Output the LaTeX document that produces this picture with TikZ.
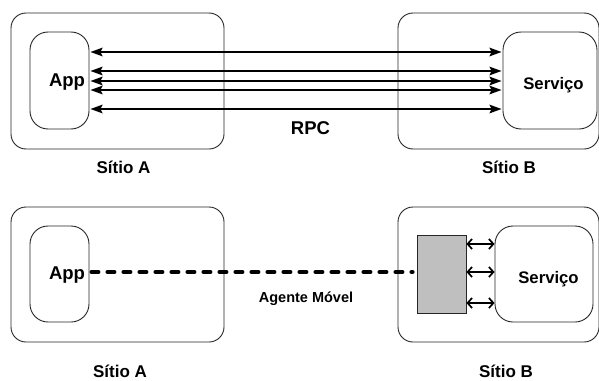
\documentclass[tikz,border=0pt]{standalone}
\usepackage{fontspec}
\setmainfont{Liberation Sans}
\usetikzlibrary{arrows.meta}
\begin{document}
\begin{tikzpicture}[x=1pt,y=-1pt,
  site/.style={draw=black!85, line width=0.9pt, rounded corners=15pt,
    minimum width=#1, inner sep=0pt},
  inner/.style={draw=black!85, line width=0.9pt, rounded corners=18pt, inner sep=0pt},
  lbl/.style={anchor=base, inner sep=0pt, font=\fontsize{#1}{#1}\selectfont\bfseries},
  rpc/.style={line width=2.2pt, {Stealth[length=12pt,width=8.5pt,inset=2pt]}-{Stealth[length=12pt,width=8.5pt,inset=2pt]}},
  local/.style={line width=1.7pt, {Straight Barb[length=4.5pt,width=10pt]}-{Straight Barb[length=4.5pt,width=10pt]}},
  agent/.style={line width=4pt, line cap=round, dash pattern=on 7pt off 9pt}
]
\useasboundingbox (0,0) rectangle (599,380);

% ---- RPC: upper half ----
\node[site=213pt, minimum height=136pt] (siteAt) at (117.5,81) {};
\node[inner, minimum width=59pt, minimum height=97pt] (appT) at (59.5,80.5) {};
\node[site=201pt, minimum height=136pt] (siteBt) at (498.5,81) {};
\node[inner, minimum width=94pt, minimum height=97pt] (srvT) at (550,80.5) {};

\node[lbl=18.5] (appTxt) at (67,86) {App};
\node[lbl=16.7] (srvTxt) at (553.5,89) {Serviço};
\node[lbl=18.5] (rpcTxt) at (310.5,134) {RPC};
\node[lbl=17] (labAt) at (123.5,173) {Sítio A};
\node[lbl=17] (labBt) at (509,173) {Sítio B};

\foreach \yy in {52,71,81,90,109}
  \draw[rpc, shorten <=1pt, shorten >=1pt] (appT.east |- 0,\yy) -- (srvT.west |- 0,\yy);

% ---- Mobile agent: lower half ----
\node[site=213pt, minimum height=135pt] (siteAb) at (117.5,274.5) {};
\node[inner, minimum width=59pt, minimum height=96pt] (appB) at (59.5,274) {};
\node[site=201pt, minimum height=135pt] (siteBb) at (498.5,274.5) {};
\node[inner, minimum width=98pt, minimum height=96pt] (srvB) at (544,274) {};
\node[draw=black!85, fill=black!25, line width=0.8pt, minimum width=49pt,
  minimum height=78pt, inner sep=0pt] (agent) at (441.5,274) {};

\node[lbl=18.5] (appTxtB) at (67,279.5) {App};
\node[lbl=16.7] (srvTxtB) at (548.5,283) {Serviço};
\node[lbl=14.5] (agTxt) at (306,302) {Agente Móvel};
\node[lbl=17] (labAb) at (120,377) {Sítio A};
\node[lbl=17] (labBb) at (506,377) {Sítio B};

\draw[agent, shorten <=2pt, shorten >=4pt] (appB.east |- 0,272) -- (agent.west |- 0,272);

\foreach \yy in {244,272,303}
  \draw[local] (agent.east |- 0,\yy) -- (srvB.west |- 0,\yy);
\end{tikzpicture}
\end{document}
